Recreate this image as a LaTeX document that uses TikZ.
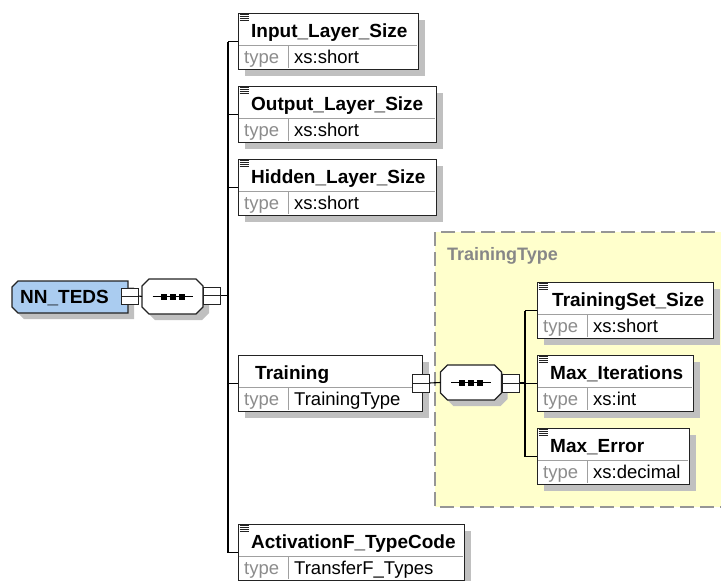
\documentclass[tikz,border=0pt]{standalone}
\usepackage{fontspec}
\setmainfont{Liberation Sans}
\definecolor{shadowc}{RGB}{192,192,192}
\definecolor{rootblue}{RGB}{170,204,240}
\definecolor{typebg}{RGB}{255,255,204}
\definecolor{divc}{RGB}{160,160,160}
\definecolor{typegray}{RGB}{140,140,140}
\definecolor{edgec}{RGB}{35,35,35}
\definecolor{dashc}{RGB}{150,150,150}
\tikzset{
  elem/.style={draw=edgec, fill=white, line width=1.2pt, anchor=north west, minimum height=56pt, inner sep=0pt},
  divline/.style={draw=divc, line width=1pt},
  titletext/.style={anchor=base west, inner sep=0pt, font=\fontsize{19}{21}\selectfont\bfseries},
  typetext/.style={anchor=base west, inner sep=0pt, font=\fontsize{18.5}{20}\selectfont},
  conn/.style={draw=black, line width=1.1pt},
  minusbox/.style={draw=edgec, fill=white, line width=1pt, inner sep=0pt, minimum width=17pt, minimum height=17pt},
  invis/.style={inner sep=0pt, outer sep=0pt}
}
% element box: #1 name, #2 x, #3 y, #4 width, #5 title, #6 type, #7 title offset
\newcommand{\elembox}[7]{%
  \fill[shadowc] (#2+7,#3+7) rectangle (#2+#4+7,#3+63);
  \node[elem, minimum width=#4pt] (#1) at (#2,#3) {};
  \draw[divline] (#2+0.6,#3+32) -- (#2+#4-0.6,#3+32);
  \draw[divline] (#2+50,#3+32) -- (#2+50,#3+55.4);
  \node[titletext] at (#2+#7,#3+24) {#5};
  \node[typetext, text=typegray] at (#2+6,#3+50) {type};
  \node[typetext] at (#2+56,#3+50) {#6};
}
\newcommand{\elicon}[2]{%
  \foreach \k in {1.5,3.5,5.5,7.5}{\draw[edgec, line width=0.9pt] (#1+1.5,#2+\k) -- (#1+10.5,#2+\k);}
}
% sequence compositor: #1 name, #2 cx, #3 cy
\newcommand{\seqcomp}[3]{%
  \begin{scope}[shift={(#2,#3)}]
    \fill[shadowc, shift={(6,6)}] (-23.5,-17.5) -- (23.5,-17.5) -- (30.5,-10.5) -- (30.5,10.5) -- (23.5,17.5) -- (-23.5,17.5) -- (-30.5,10.5) -- (-30.5,-10.5) -- cycle;
    \draw[edgec, fill=white, line width=1.1pt] (-23.5,-17.5) -- (23.5,-17.5) -- (30.5,-10.5) -- (30.5,10.5) -- (23.5,17.5) -- (-23.5,17.5) -- (-30.5,10.5) -- (-30.5,-10.5) -- cycle;
    \draw[black, line width=1pt] (-20,0) -- (20,0);
    \foreach \s in {-9,0,9}{\fill[black] (\s-3,-3) rectangle (\s+3,3);}
    \node[invis, minimum width=61pt, minimum height=35pt] (#1) at (0,0) {};
  \end{scope}
}
\newcommand{\minusnode}[4]{% #1 name #2 cx #3 cy #4 height
  \node[minusbox, minimum height=#4pt] (#1) at (#2,#3) {};
  \draw[edgec, line width=1pt] ([xshift=1pt]#1.west) -- ([xshift=-1pt]#1.east);
}
\begin{document}
\begin{tikzpicture}[x=1pt, y=-1pt]
\useasboundingbox (0,0) rectangle (721,581);
% TrainingType area
\draw[dashc, fill=typebg, line width=1.5pt, dash pattern=on 14pt off 6pt] (435,232) rectangle (740,507);
\node[anchor=base west, inner sep=0pt, text=dashc!90!black, font=\fontsize{18}{20}\selectfont\bfseries] (ttlabel) at (447,260) {TrainingType};

% root element
\fill[shadowc] (18+6,281+6) -- (128+6,281+6) -- (128+6,313+6) -- (18+6,313+6) -- (12+6,307+6) -- (12+6,287+6) -- cycle;
\draw[edgec, fill=rootblue, line width=1.2pt] (18,281) -- (128,281) -- (128,313) -- (18,313) -- (12,307) -- (12,287) -- cycle;
\node[invis, minimum width=116pt, minimum height=32pt] (root) at (70,297) {};
\node[titletext] (rootlabel) at (20,303.5) {NN\_TEDS};
\minusnode{rootm}{129.5}{296}{16}

% first sequence
\seqcomp{seqA}{172.5}{296.5}
\minusnode{seqAm}{212}{295.5}{17}
\coordinate (bus) at (228,0);

% elements
\elembox{input}{238}{13}{180}{Input\_Layer\_Size}{xs:short}{13}
\elicon{238}{13}
\elembox{output}{238}{86}{198}{Output\_Layer\_Size}{xs:short}{13}
\elicon{238}{86}
\elembox{hidden}{238}{159}{198}{Hidden\_Layer\_Size}{xs:short}{13}
\elicon{238}{159}
\elembox{training}{238}{355}{184}{Training}{TrainingType}{17}
\elembox{activation}{238}{524}{226}{ActivationF\_TypeCode}{TransferF\_Types}{13}
\elicon{238}{524}

\minusnode{trainm}{420.5}{383}{18}
\seqcomp{seqB}{471}{382.5}
\minusnode{seqBm}{511}{383}{18}
\coordinate (ibus) at (525,0);

\elembox{tset}{537}{282}{176}{TrainingSet\_Size}{xs:short}{15}
\elicon{537}{282}
\elembox{maxit}{537}{355}{156}{Max\_Iterations}{xs:int}{13}
\elicon{537}{355}
\elembox{maxerr}{537}{428}{152}{Max\_Error}{xs:decimal}{13}
\elicon{537}{428}

% connectors
\draw[conn] (rootm.east) -- (seqA.west);
\draw[conn] (seqAm.east) -- (seqAm.east -| bus);
\draw[conn] (input.west -| bus) -- (activation.west -| bus);
\foreach \n in {input,output,hidden,training,activation}{\draw[conn] (\n.west -| bus) -- (\n.west);}
\draw[conn] (trainm.east) -- (seqB.west);
\draw[conn] (seqBm.east) -- (seqBm.east -| ibus);
\draw[conn] (tset.west -| ibus) -- (maxerr.west -| ibus);
\foreach \n in {tset,maxit,maxerr}{\draw[conn] (\n.west -| ibus) -- (\n.west);}
\end{tikzpicture}
\end{document}
